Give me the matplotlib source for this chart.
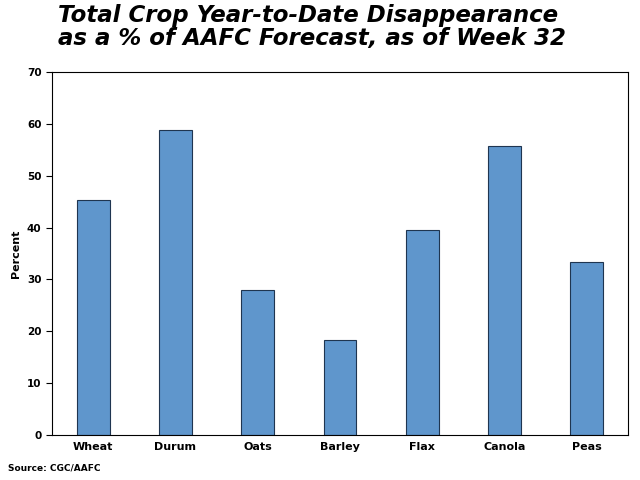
import matplotlib
matplotlib.use("Agg")
import matplotlib.pyplot as plt
from matplotlib import font_manager

categories = ["Wheat", "Durum", "Oats", "Barley", "Flax", "Canola", "Peas"]
values = [45.4, 58.9, 27.9, 18.3, 39.6, 55.8, 33.3]

names = {f.name for f in font_manager.fontManager.ttflist}
if "Liberation Sans Narrow" in names:
    tfont, tsize = "Liberation Sans Narrow", 21
else:
    tfont, tsize = "DejaVu Sans", 16.5

fig = plt.figure(figsize=(6.4, 4.8), dpi=100)
ax = fig.add_axes([52/640, 45/480, 576/640, 363/480])
ax.bar(range(len(categories)), values, width=0.4, color="#5f96cc", edgecolor="#1f3550", linewidth=0.8)
ax.set_xlim(-0.5, len(categories) - 0.5)
ax.set_ylim(0, 70)
ax.set_yticks(range(0, 71, 10))
ax.set_xticks(range(len(categories)))
ax.set_xticklabels(categories, fontsize=8, fontweight="bold")
ax.tick_params(axis="y", labelsize=7.5, direction="out", length=4)
ax.tick_params(axis="x", length=0, pad=5)
for lbl in ax.get_yticklabels():
    lbl.set_fontweight("bold")
ax.set_ylabel("Percent", fontsize=8, fontweight="bold")
fig.text(58/640, 1 - 4/480, "Total Crop Year-to-Date Disappearance\nas a % of AAFC Forecast, as of Week 32",
         fontsize=tsize, family=tfont, fontweight="bold", style="italic", va="top", ha="left", linespacing=1.0)
fig.text(8/640, 12/480, "Source: CGC/AAFC", fontsize=6.5, fontweight="bold", va="center")
fig.savefig("out.png", dpi=100)
